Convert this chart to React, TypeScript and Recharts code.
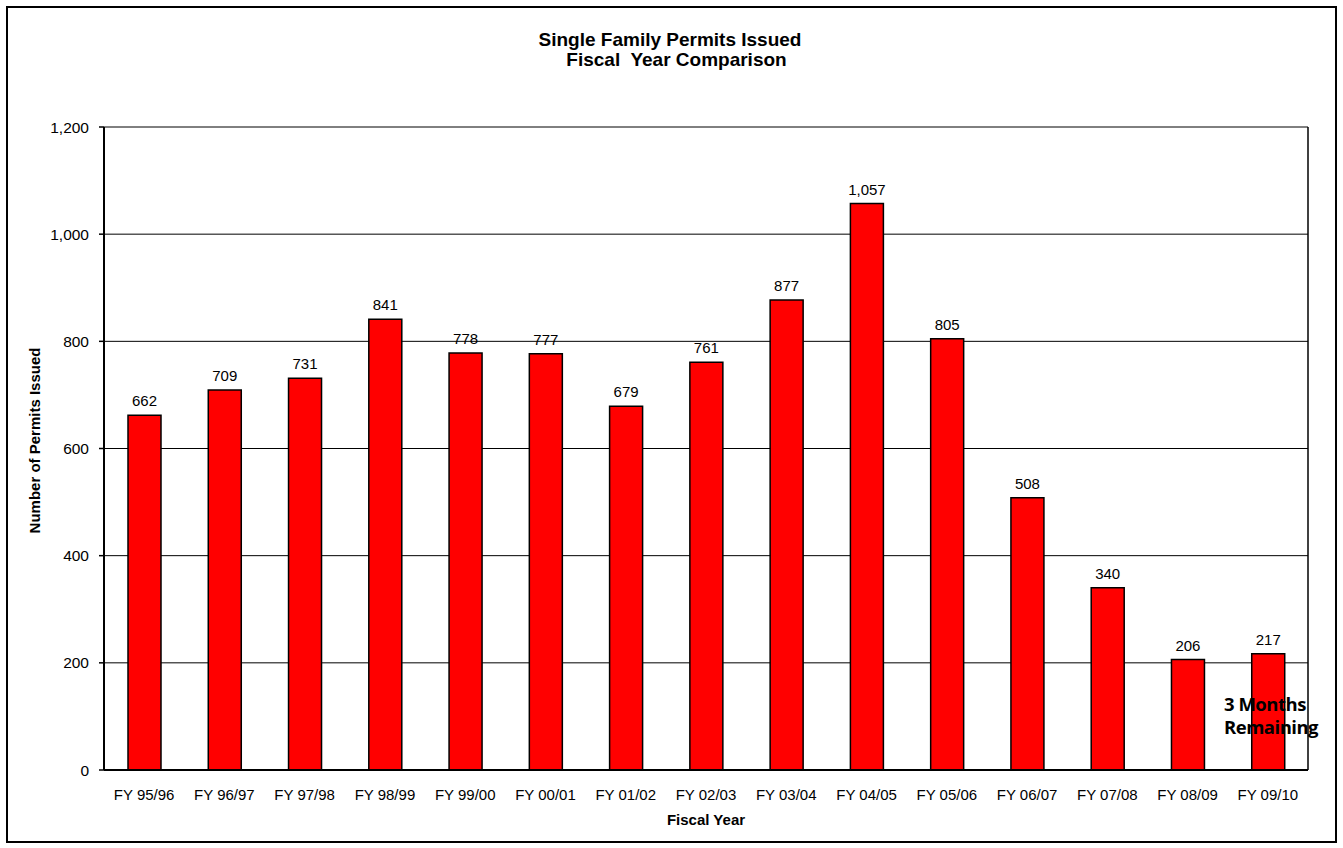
import { Bar, BarChart, CartesianGrid, LabelList, XAxis, YAxis } from "recharts"

const RED = "#FF0000"
const FONT = "'Liberation Sans', Arial, sans-serif"

const YEARS = [
  "FY 95/96", "FY 96/97", "FY 97/98", "FY 98/99", "FY 99/00",
  "FY 00/01", "FY 01/02", "FY 02/03", "FY 03/04", "FY 04/05",
  "FY 05/06", "FY 06/07", "FY 07/08", "FY 08/09", "FY 09/10",
]

const PERMITS = [662, 709, 731, 841, 778, 777, 679, 761, 877, 1057, 805, 508, 340, 206, 217]

const Y_TICKS = [0, 200, 400, 600, 800, 1000, 1200]

// one boundary tick per category edge (0..15)
const EDGES = YEARS.map((_, i) => i).concat(YEARS.length)

const data = YEARS.map((fy, i) => ({ fy, permits: PERMITS[i], pos: i + 0.5 }))

const fmt = (v: number) => v.toLocaleString("en-US")

const YTitle = (props: any) => {
  const vb = props.viewBox || {}
  const x = vb.x + 30
  const y = vb.y + vb.height / 2 - 8
  return (
    <text x={x} y={y} transform={`rotate(-90 ${x} ${y})`} textAnchor="middle" dominantBaseline="central"
      fontSize={15} fontWeight="bold" fill="#000" fontFamily={FONT}>
      Number of Permits Issued
    </text>
  )
}

export default function App() {
  return (
    <div style={{ position: "absolute", left: 0, top: 0, width: 1343, height: 848, fontFamily: FONT }}>
      <div
        style={{
          position: "absolute", left: 6, top: 6, width: 1331, height: 837,
          border: "2px solid #000", boxSizing: "border-box",
        }}
      />
      <div style={{ position: "absolute", left: 0, top: 30, width: 1343, textAlign: "center", fontSize: 19, fontWeight: "bold", lineHeight: "20px" }}>
        <div style={{ marginLeft: -3 }}>Single Family Permits Issued</div>
        <div style={{ marginLeft: 10 }}>Fiscal&nbsp; Year Comparison</div>
      </div>
      <BarChart
        width={1343}
        height={848}
        data={data}
        margin={{ top: 127, right: 34, bottom: 21, left: 4 }}
        style={{ position: "absolute", left: 0, top: 0 }}
      >
        <CartesianGrid xAxisId="main" horizontal vertical={false} stroke="#000" strokeWidth={1} />
        <XAxis
          xAxisId="a"
          type="number"
          dataKey="pos"
          domain={[0, YEARS.length]}
          ticks={EDGES}
          tick={false}
          tickSize={5}
          tickLine={{ stroke: "#000", strokeWidth: 1.5 }}
          axisLine={{ stroke: "#000", strokeWidth: 2 }}
          height={1}
        />
        <XAxis
          xAxisId="main"
          dataKey="fy"
          tickLine={false}
          axisLine={false}
          tickSize={0}
          tickMargin={18}
          interval={0}
          height={56}
          tick={{ fontSize: 15, fill: "#000", fontFamily: FONT }}
          label={{ value: "Fiscal Year", position: "insideBottom", offset: 2, fontSize: 15, fontWeight: "bold", fill: "#000", fontFamily: FONT }}
        />
        <YAxis
          domain={[0, 1200]}
          ticks={Y_TICKS}
          tickFormatter={fmt}
          width={100}
          tickSize={5}
          tickMargin={10}
          tickLine={{ stroke: "#000", strokeWidth: 1.5 }}
          axisLine={{ stroke: "#000", strokeWidth: 2 }}
          tick={{ fontSize: 15.5, fill: "#000", fontFamily: FONT }}
          label={<YTitle />}
        />
        <YAxis
          yAxisId="right"
          orientation="right"
          domain={[0, 1200]}
          width={1}
          tick={false}
          tickLine={false}
          axisLine={{ stroke: "#000", strokeWidth: 1.5 }}
        />
        <Bar xAxisId="main" dataKey="permits" fill={RED} stroke="#000" strokeWidth={1.5} barSize={33} isAnimationActive={false}>
          <LabelList dataKey="permits" position="top" offset={9} formatter={(v: number) => fmt(v)} fontSize={15} fill="#000" fontFamily={FONT} />
        </Bar>
      </BarChart>
      <div style={{ position: "absolute", left: 1224, top: 692, fontFamily: "'Open Sans', Lato, sans-serif", fontWeight: "bold", fontSize: 18.5, lineHeight: "23px", color: "#000", whiteSpace: "nowrap", letterSpacing: -0.5 }}>
        <div>3 Months</div>
        <div>Remaining</div>
      </div>
    </div>
  )
}
